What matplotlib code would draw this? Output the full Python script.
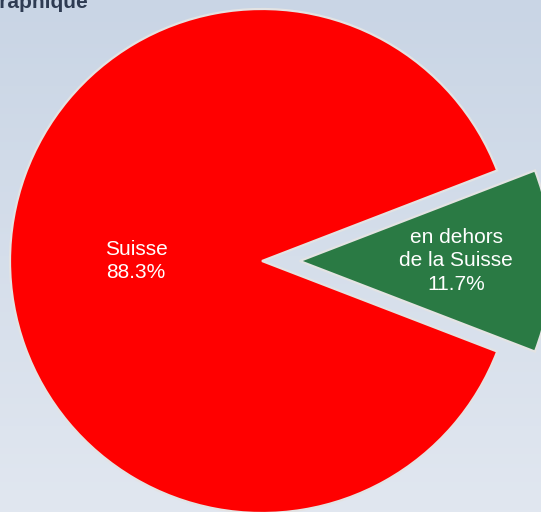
import numpy as np
import matplotlib
matplotlib.use('Agg')
import matplotlib.pyplot as plt

# Data
labels = ['en dehors\nde la Suisse', 'Suisse']
values = [11.7, 88.3]
colors = ['#2a7a44', '#ff0000']
explode = [0.15, 0.0]
label_dist = [0.62, 0.5]

plt.rcParams['font.family'] = ['Liberation Sans', 'DejaVu Sans']

W, H = 541, 512
fig = plt.figure(figsize=(W / 100, H / 100), dpi=100)

# gradient background
bg = fig.add_axes([0, 0, 1, 1])
grad = np.linspace(0, 1, 256).reshape(-1, 1)
top = np.array([0xc9, 0xd5, 0xe5]) / 255
bot = np.array([0xe1, 0xe7, 0xf0]) / 255
img = top + (bot - top) * grad[:, :, None]
bg.imshow(img, aspect='auto', extent=[0, 1, 0, 1])
bg.set_axis_off()

# pie
ax = fig.add_axes([0, 0, 1, 1])
ax.patch.set_alpha(0)
start = -values[0] / sum(values) * 360 / 2
wedges, _ = ax.pie(values, colors=colors, explode=explode, startangle=start,
                   counterclock=True, radius=1.0,
                   wedgeprops=dict(edgecolor='#e3e3e3', linewidth=1.6))

total = sum(values)
for w, lab, v, d in zip(wedges, labels, values, label_dist):
    mid = np.deg2rad((w.theta1 + w.theta2) / 2)
    cx, cy = w.center
    ax.text(cx + d * np.cos(mid), cy + d * np.sin(mid),
            f'{lab}\n{v / total * 100:.1f}%', ha='center', va='center',
            color='white', fontsize=15, linespacing=1.3)

# place pie: center at (262, 261) px, radius 252 px
r = 252.0
cxp, cyp = 262.0, 261.0
ax.set_xlim(-cxp / r, (W - cxp) / r)
ax.set_ylim(-(H - cyp) / r, cyp / r)
ax.set_axis_off()

# cut-off title
fig.text(-17 / W, 1 - 8 / H, 'Graphique', ha='left', va='baseline',
         fontsize=15, fontweight='bold', color='#2e3b52')

fig.savefig('out.png', dpi=100)
